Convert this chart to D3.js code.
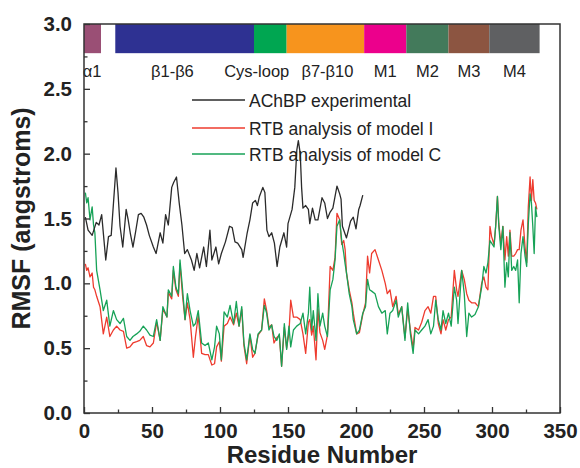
<!DOCTYPE html>
<html>
<head>
<meta charset="utf-8">
<script src="https://cdn.jsdelivr.net/npm/d3@7"></script>
<style>
  body { margin: 0; background: #fff; }
  svg { display: block; font-family: "Liberation Sans", Arial, sans-serif; }
</style>
</head>
<body>
<svg id="chart" width="580" height="468"></svg>
<script>
// AChBP experimental B-factor RMSF (residue, value)
const expResidues = [1,3,6,9,11,13,16,18,20,23.5,25,26.5,28.5,31,32.5,34,36,38,40,42,44,46,48,51,53,56,58,60,62,64.5,66,68,70,72,74,76,79,81,83,85,88,90,92.6,94,97,99,101,104,107,109,111,113,116,117,120,122,124,126,127.5,129,131.5,133,134.5,136,138,140,142,144,147,149,150,153,155,156.5,157.6,159,160,161,163,165,166,168,170,172,175,177,179,181,183,186,188,189,190,193,196,198,200,202,203,205];
const expValues = [1.51,1.41,1.37,1.47,1.45,1.53,1.18,1.36,1.37,1.89,1.70,1.44,1.28,1.57,1.49,1.39,1.28,1.40,1.53,1.54,1.51,1.45,1.37,1.28,1.23,1.39,1.31,1.53,1.45,1.74,1.78,1.82,1.62,1.45,1.23,1.26,1.18,1.10,1.23,1.12,1.28,1.13,1.41,1.18,1.28,1.15,1.23,1.32,1.44,1.43,1.32,1.31,1.26,1.20,1.39,1.49,1.62,1.64,1.60,1.67,1.74,1.70,1.41,1.36,1.39,1.31,1.13,1.28,1.39,1.28,1.46,1.57,1.74,2.03,2.10,2.00,1.74,1.58,1.60,1.57,1.46,1.58,1.49,1.49,1.66,1.62,1.50,1.55,1.58,1.75,1.69,1.65,1.44,1.35,1.48,1.51,1.42,1.57,1.60,1.68];

// RTB models, shared residue grid
const residues = [1,2,3,4.4,6,7,8,9.3,11.8,14.2,16.7,19,21.6,24,26.5,29,31.4,33.8,36,38.7,41,43.6,46,48.5,51,53.4,56,58,61,62,64.5,65.7,67.6,69.4,70.6,72.5,74.3,76,78,80.4,82,84,86.5,89,91.4,94,96,97.5,99.5,101,103,105.4,107.4,110,112,114,116,117.6,119.6,122,124,125.7,128,130.6,132.6,134.3,136,138,139.7,141.7,143.6,145.3,147.3,149,150.7,152,154,156.4,159,161,163,165,166,167.4,168.6,170.6,172,173.5,175.5,177,179,181,183,184.6,186,188,189.5,191,192,193,195,197,198,200.5,202.5,205,207,208.5,210,211.5,214,216.5,219,221.5,223,225,227,229.5,231.1,233.6,236,238,240,242,243.4,246,248.3,250.7,253,255,257,258.6,260.5,262.5,264,266,268,270,272.3,274,275,277.7,279.6,281.4,283,285,287.5,290,292.4,294,295.6,297,298.5,299.7,301.5,302.7,304,305,306.5,308,309.5,310.8,312,313.2,314.5,316,317.4,318.8,320,321.3,322.8,324.3,325.5,326.7,328,329,330,331,332,333];
const modelI = [1.15,1.10,1.12,1.05,1.08,0.97,0.95,0.90,0.82,0.61,0.74,0.59,0.64,0.67,0.64,0.63,0.50,0.51,0.54,0.55,0.56,0.59,0.52,0.51,0.54,0.70,0.56,0.80,0.74,0.93,0.88,1.10,0.95,0.90,1.15,0.90,0.72,0.85,0.72,0.43,0.59,0.75,0.46,0.45,0.45,0.37,0.38,0.51,0.55,0.40,0.67,0.69,0.74,0.68,0.77,0.67,0.80,0.52,0.38,0.60,0.43,0.46,0.60,0.64,0.88,0.79,0.66,0.68,0.54,0.58,0.60,0.36,0.66,0.50,0.62,0.87,0.74,0.74,0.72,0.61,0.46,0.70,0.72,0.60,0.67,0.41,0.80,0.62,0.56,0.49,0.60,1.13,1.10,1.20,1.54,1.49,1.30,1.33,1.26,1.08,0.95,0.85,0.77,0.61,0.62,0.76,0.85,1.21,1.08,1.23,1.26,1.18,1.10,1.00,0.92,0.95,0.82,0.90,0.76,0.82,0.58,0.80,0.64,0.50,0.66,0.64,0.70,0.79,0.82,0.77,0.90,0.90,0.69,0.61,0.72,0.64,0.72,0.74,1.10,0.95,0.90,1.10,1.03,0.92,0.87,0.85,0.85,0.82,1.00,1.05,0.97,0.95,1.44,1.36,1.30,1.44,1.67,1.46,1.31,1.44,1.18,1.36,1.21,1.41,1.21,1.21,1.23,1.26,1.26,1.41,1.49,1.28,1.16,1.59,1.82,1.64,1.80,1.64,1.62,1.57];
const modelC = [1.70,1.62,1.66,1.49,1.59,1.45,1.39,1.10,0.95,0.79,0.87,0.67,0.79,0.72,0.69,0.73,0.59,0.56,0.59,0.61,0.63,0.67,0.64,0.60,0.59,0.72,0.56,0.82,0.74,0.95,0.90,1.13,0.97,0.92,1.18,0.95,0.72,0.92,0.79,0.67,0.69,0.79,0.54,0.52,0.54,0.41,0.51,0.67,0.61,0.41,0.78,0.74,0.83,0.69,0.86,0.67,0.82,0.54,0.41,0.61,0.49,0.46,0.61,0.64,0.83,0.77,0.64,0.68,0.59,0.56,0.61,0.36,0.69,0.49,0.67,0.51,0.64,0.67,0.69,0.77,0.61,0.77,0.97,0.64,0.79,0.56,0.92,0.67,0.77,0.67,0.59,0.95,1.03,1.18,1.44,1.49,1.33,1.23,1.15,1.08,0.92,0.82,0.72,0.61,0.64,0.77,0.82,1.03,0.95,0.94,0.92,0.82,0.77,0.79,0.61,0.77,0.79,0.87,0.74,0.82,0.56,0.85,0.61,0.46,0.64,0.61,0.64,0.67,0.72,0.61,0.67,0.87,0.72,0.64,0.79,0.69,0.77,0.67,0.97,0.87,0.69,1.10,0.92,0.59,0.77,0.74,0.76,0.82,0.97,1.13,1.08,1.16,1.33,1.31,1.28,1.44,1.67,1.44,1.26,1.44,0.97,1.16,1.05,1.39,1.10,1.13,1.10,1.18,0.85,1.23,1.36,1.21,1.13,1.46,1.69,1.62,1.44,1.23,1.59,1.51];

// secondary structure bar along the top
const segNames = ["\u03b11", "\u03b21-\u03b26", "Cys-loop", "\u03b27-\u03b210", "M1", "M2", "M3", "M4"];
const segStart = [0, 23, 125, 149, 206, 237, 268, 298];
const segEnd = [12.5, 125, 149, 206, 237, 268, 298, 335];
const segLabelAt = [6, 65, 127, 179, 221.5, 252.5, 283, 316.5];
const segColors = ["#9a4f75", "#2e3192", "#00a651", "#f7941d", "#ec008c", "#437a5b", "#8c5541", "#5f6062"];

const seriesNames = ["AChBP experimental", "RTB analysis of model I", "RTB analysis of model C"];
const seriesColors = ["#2b2b2b", "#ee3b2e", "#17a257"];

const xTicks = [0, 50, 100, 150, 200, 250, 300, 350];
const yTicks = [0, 0.5, 1, 1.5, 2, 2.5, 3];

const svg = d3.select("#chart");
const margin = { top: 24, right: 20, bottom: 55, left: 84 };
const W = +svg.attr("width"), H = +svg.attr("height");
const x = d3.scaleLinear().domain([0, 350]).range([margin.left, W - margin.right]);
const y = d3.scaleLinear().domain([0, 3]).range([H - margin.bottom, margin.top]);

// top bar segments
svg.append("g")
  .selectAll("rect")
  .data(segNames)
  .join("rect")
  .attr("x", (d, i) => x(segStart[i]))
  .attr("y", y(3))
  .attr("width", (d, i) => x(segEnd[i]) - x(segStart[i]))
  .attr("height", y(2.775) - y(3))
  .attr("fill", (d, i) => segColors[i]);

svg.append("g")
  .selectAll("text")
  .data(segNames)
  .join("text")
  .attr("x", (d, i) => x(segLabelAt[i]))
  .attr("y", 77)
  .attr("text-anchor", "middle")
  .style("font-size", "16.5px")
  .style("fill", "#222")
  .text((d) => d);

// lines
const line = d3.line().x((d) => x(d[0])).y((d) => y(d[1]));
const lineData = [
  d3.zip(residues, modelI),
  d3.zip(residues, modelC),
  d3.zip(expResidues, expValues)
];
const lineColors = [seriesColors[1], seriesColors[2], seriesColors[0]];
svg.append("g")
  .selectAll("path")
  .data(lineData)
  .join("path")
  .attr("d", line)
  .attr("fill", "none")
  .attr("stroke", (d, i) => lineColors[i])
  .attr("stroke-width", 1.3)
  .attr("stroke-linejoin", "round");

// axes, ticks pointing inwards
const xAxis = svg.append("g")
  .attr("transform", `translate(0,${y(0)})`)
  .call(d3.axisBottom(x).tickValues(xTicks).tickSizeInner(-6).tickSizeOuter(0).tickPadding(10));
svg.append("g")
  .attr("transform", `translate(0,${y(0)})`)
  .call(d3.axisBottom(x).tickValues(d3.range(25, 350, 50)).tickSizeInner(-3.5).tickSizeOuter(0).tickFormat(""));
const yAxis = svg.append("g")
  .attr("transform", `translate(${x(0)},0)`)
  .call(d3.axisLeft(y).tickValues(yTicks).tickSizeInner(-6).tickSizeOuter(0).tickPadding(12).tickFormat(d3.format(".1f")));
svg.append("g")
  .attr("transform", `translate(${x(0)},0)`)
  .call(d3.axisLeft(y).tickValues(d3.range(0.25, 3, 0.5)).tickSizeInner(-3.5).tickSizeOuter(0).tickFormat(""));

svg.selectAll(".domain").remove();
svg.selectAll(".tick line").attr("stroke", "#333").attr("stroke-width", 1.3);
[xAxis, yAxis].forEach((g) =>
  g.selectAll("text")
    .style("font-family", "'Liberation Sans', Arial, sans-serif")
    .style("font-size", "20.5px")
    .style("font-weight", "bold")
    .style("fill", "#222")
);

// frame
svg.append("rect")
  .attr("x", x(0))
  .attr("y", y(3))
  .attr("width", x(350) - x(0))
  .attr("height", y(0) - y(3))
  .attr("fill", "none")
  .attr("stroke", "#333")
  .attr("stroke-width", 1.5);

// axis titles
svg.append("text")
  .attr("x", (x(0) + x(350)) / 2)
  .attr("y", 463)
  .attr("text-anchor", "middle")
  .style("font-size", "24px")
  .style("font-weight", "bold")
  .style("fill", "#222")
  .text("Residue Number");

svg.append("text")
  .attr("transform", `translate(30,${(y(0) + y(3)) / 2}) rotate(-90)`)
  .attr("text-anchor", "middle")
  .style("font-size", "25px")
  .style("font-weight", "bold")
  .style("fill", "#222")
  .text("RMSF (angstroms)");

// legend
const legendY = [100, 128, 154];
const legend = svg.append("g");
legend.selectAll("line")
  .data(seriesNames)
  .join("line")
  .attr("x1", 192)
  .attr("x2", 245)
  .attr("y1", (d, i) => legendY[i])
  .attr("y2", (d, i) => legendY[i])
  .attr("stroke", (d, i) => seriesColors[i])
  .attr("stroke-width", 1.3);
legend.selectAll("text")
  .data(seriesNames)
  .join("text")
  .attr("x", 249)
  .attr("y", (d, i) => legendY[i] + 6.5)
  .style("font-size", "17.5px")
  .style("fill", "#222")
  .text((d) => d);
</script>
</body>
</html>
